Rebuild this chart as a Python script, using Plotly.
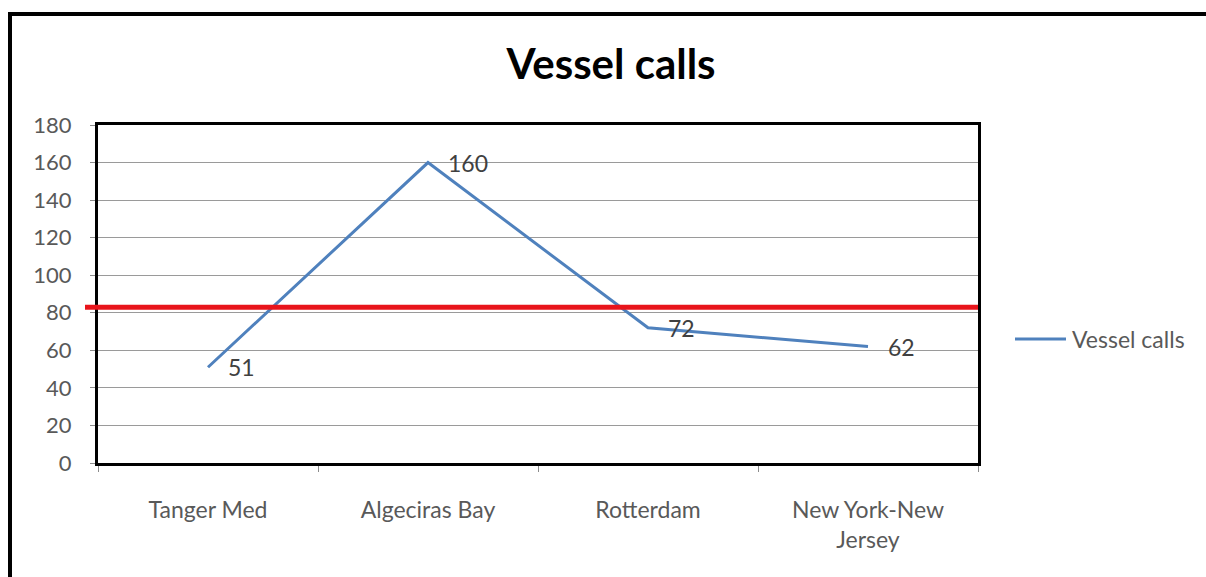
import plotly.graph_objects as go

# Port vessel-call counts
ports = ["Tanger Med", "Algeciras Bay", "Rotterdam", "New York-New Jersey"]
port_labels = ["Tanger Med", "Algeciras Bay", "Rotterdam", "New York-New<br>Jersey"]
vessel_calls = [51, 160, 72, 62]
reference_level = 83
y_ticks = [0, 20, 40, 60, 80, 100, 120, 140, 160, 180]
series_name = "Vessel calls"

W, H = 1206, 577
L, R, T, B = 98, 978, 125, 463  # plot-area edges in pixels
LINE_BLUE = "#4F81BD"


def px_x(p):
    return (p - L) / (R - L)


def px_y(p):
    return (B - p) / (B - T)


FONT = "Lato, 'Open Sans', sans-serif"

fig = go.Figure()
fig.add_trace(go.Scatter(
    x=ports, y=vessel_calls, mode="lines", name=series_name,
    line=dict(color=LINE_BLUE, width=3), showlegend=False,
))

# value labels beside each point
for p, v in zip(ports, vessel_calls):
    fig.add_annotation(x=p, y=v, text=str(v), showarrow=False,
                       xanchor="left", yanchor="middle", xshift=18, yshift=0,
                       font=dict(family=FONT, size=23, color="#404040"))

# red reference line
fig.add_shape(type="line", xref="paper", yref="y",
              x0=px_x(85), x1=1.0, y0=reference_level, y1=reference_level,
              line=dict(color="#E8141B", width=5), layer="above")

# legend entry: line sample + series name
fig.add_shape(type="line", xref="paper", yref="paper",
              x0=px_x(1015), x1=px_x(1066), y0=px_y(339), y1=px_y(339),
              line=dict(color=LINE_BLUE, width=3))
fig.add_annotation(xref="paper", yref="paper", x=px_x(1070), y=px_y(339),
                   text=series_name, showarrow=False, xanchor="left", yanchor="middle",
                   font=dict(family=FONT, size=23, color="#595959"))

# outer chart frame
fig.add_shape(type="rect", xref="paper", yref="paper",
              x0=px_x(10), x1=px_x(1215), y0=px_y(590), y1=px_y(14),
              line=dict(color="black", width=4), layer="above")

fig.update_layout(
    width=W, height=H,
    margin=dict(l=L, r=W - R, t=T, b=H - B, pad=0),
    paper_bgcolor="white", plot_bgcolor="white",
    title=dict(text="<b>Vessel calls</b>", xref="paper", x=px_x(611),
               yref="container", y=1 - 64 / H, xanchor="center", yanchor="middle",
               font=dict(family=FONT, size=42, color="black")),
    showlegend=False,
    xaxis=dict(type="category", categoryorder="array", categoryarray=ports,
               tickvals=ports, ticktext=port_labels, range=[-0.5, 3.5],
               tickson="boundaries", ticks="outside", ticklen=6, tickcolor="#8c8c8c",
               showline=True, linecolor="black", linewidth=3, mirror=True,
               showgrid=False, ticklabelstandoff=24,
               tickfont=dict(family=FONT, size=23, color="#595959")),
    yaxis=dict(range=[0, 180], tickvals=y_ticks, ticks="outside", ticklen=5,
               tickcolor="#8c8c8c", showline=True, linecolor="black", linewidth=3,
               mirror=True, showgrid=True, gridcolor="#9a9a9a", gridwidth=1,
               zeroline=False, ticklabelstandoff=14,
               tickfont=dict(family=FONT, size=22, color="#595959")),
)

fig.write_html("out.html")
